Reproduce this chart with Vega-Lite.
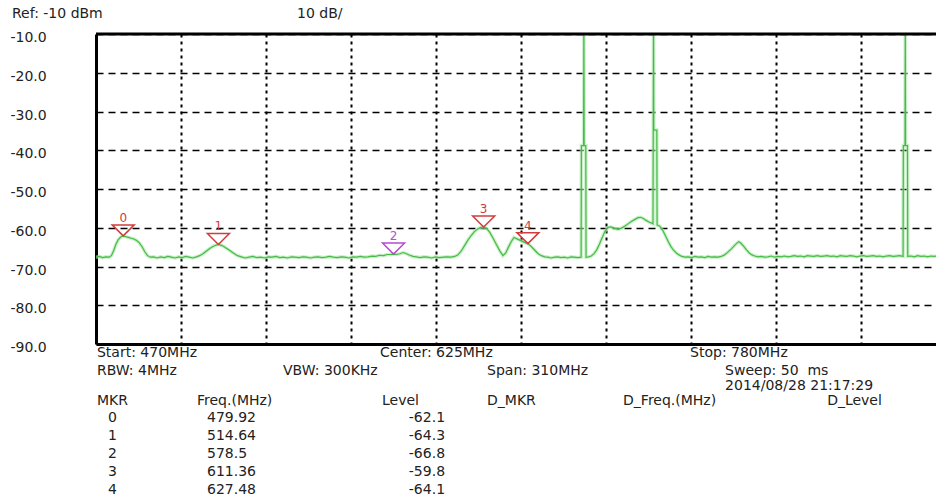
{
  "$schema": "https://vega.github.io/schema/vega-lite/v6.json",
  "width": 840,
  "height": 310,
  "autosize": {"type": "none"},
  "padding": {"left": 96, "top": 34, "right": 0, "bottom": 159},
  "background": "white",
  "config": {
    "view": {"stroke": null},
    "font": "DejaVu Sans",
    "axisX": {"labels": false, "ticks": false, "domain": true, "domainColor": "black", "domainWidth": 3, "grid": true, "gridColor": "black", "gridDash": [3, 4], "gridWidth": 2, "gridOpacity": 1},
    "axisY": {"ticks": false, "labelAlign": "left", "labelPadding": 86, "labelBaseline": "middle", "labelOffset": 3.5, "labelFont": "DejaVu Sans", "labelFontSize": 14,
      "labelColor": "#222222", "labelOverlap": false, "labelFlush": false, "labelBound": false,
      "domain": true, "domainColor": "black", "domainWidth": 3, "grid": true, "gridColor": "black", "gridDash": [7, 5], "gridWidth": 1.5, "gridOpacity": 1}
  },
  "datasets": {
    "trace": [
      {"f": 470.0, "v": -67.6}, {"f": 471.2, "v": -67.4}, {"f": 472.4, "v": -67.7}, {"f": 473.6, "v": -67.5}, {"f": 474.8, "v": -67.6},
      {"f": 475.6, "v": -67.2}, {"f": 476.4, "v": -66.0}, {"f": 477.2, "v": -64.4}, {"f": 478.0, "v": -63.2}, {"f": 479.0, "v": -62.4},
      {"f": 479.9, "v": -62.1}, {"f": 480.8, "v": -62.3}, {"f": 481.8, "v": -62.5}, {"f": 482.8, "v": -62.7}, {"f": 483.8, "v": -62.9},
      {"f": 484.8, "v": -63.3}, {"f": 485.8, "v": -63.9}, {"f": 486.8, "v": -64.9}, {"f": 487.8, "v": -66.2}, {"f": 488.8, "v": -67.2},
      {"f": 489.8, "v": -67.6}, {"f": 491.0, "v": -67.5}, {"f": 492.3, "v": -67.8}, {"f": 493.6, "v": -67.5}, {"f": 494.9, "v": -67.7},
      {"f": 496.2, "v": -67.4}, {"f": 497.5, "v": -67.6}, {"f": 498.8, "v": -67.8}, {"f": 500.1, "v": -67.5}, {"f": 501.4, "v": -67.7},
      {"f": 502.7, "v": -67.4}, {"f": 504.0, "v": -67.6}, {"f": 505.3, "v": -67.8}, {"f": 506.6, "v": -67.5}, {"f": 507.8, "v": -67.2},
      {"f": 509.0, "v": -66.7}, {"f": 510.3, "v": -66.0}, {"f": 511.6, "v": -65.3}, {"f": 513.0, "v": -64.7}, {"f": 514.6, "v": -64.3},
      {"f": 516.0, "v": -64.6}, {"f": 517.4, "v": -65.2}, {"f": 518.8, "v": -65.9}, {"f": 520.2, "v": -66.6}, {"f": 521.6, "v": -67.2},
      {"f": 523.0, "v": -67.5}, {"f": 524.4, "v": -67.8}, {"f": 525.8, "v": -67.6}, {"f": 527.2, "v": -67.4}, {"f": 528.6, "v": -67.7},
      {"f": 530.0, "v": -67.6}, {"f": 531.4, "v": -67.8}, {"f": 532.8, "v": -67.5}, {"f": 534.2, "v": -67.6}, {"f": 535.6, "v": -67.4},
      {"f": 537.0, "v": -67.7}, {"f": 538.4, "v": -67.6}, {"f": 539.8, "v": -67.8}, {"f": 541.2, "v": -67.5}, {"f": 542.6, "v": -67.6},
      {"f": 544.0, "v": -67.7}, {"f": 545.4, "v": -67.5}, {"f": 546.8, "v": -67.6}, {"f": 548.2, "v": -67.8}, {"f": 549.6, "v": -67.6},
      {"f": 551.0, "v": -67.5}, {"f": 552.4, "v": -67.7}, {"f": 553.8, "v": -67.6}, {"f": 555.2, "v": -67.4}, {"f": 556.6, "v": -67.6},
      {"f": 558.0, "v": -67.7}, {"f": 559.4, "v": -67.5}, {"f": 560.8, "v": -67.6}, {"f": 562.2, "v": -67.8}, {"f": 563.6, "v": -67.5},
      {"f": 565.0, "v": -67.6}, {"f": 566.4, "v": -67.4}, {"f": 567.8, "v": -67.6}, {"f": 569.2, "v": -67.5}, {"f": 570.6, "v": -67.3},
      {"f": 572.0, "v": -67.4}, {"f": 573.4, "v": -67.1}, {"f": 574.8, "v": -67.2}, {"f": 576.2, "v": -66.9}, {"f": 577.4, "v": -66.9},
      {"f": 578.5, "v": -66.8}, {"f": 579.6, "v": -66.9}, {"f": 580.8, "v": -66.7}, {"f": 582.0, "v": -66.4}, {"f": 583.2, "v": -66.7},
      {"f": 584.4, "v": -67.1}, {"f": 585.6, "v": -67.4}, {"f": 586.8, "v": -67.5}, {"f": 588.2, "v": -67.7}, {"f": 589.6, "v": -67.5},
      {"f": 591.0, "v": -67.6}, {"f": 592.4, "v": -67.8}, {"f": 593.8, "v": -67.5}, {"f": 595.2, "v": -67.7}, {"f": 596.6, "v": -67.6},
      {"f": 598.0, "v": -67.5}, {"f": 599.4, "v": -67.6}, {"f": 600.8, "v": -67.4}, {"f": 602.0, "v": -67.0}, {"f": 603.2, "v": -66.0},
      {"f": 604.4, "v": -64.6}, {"f": 605.6, "v": -63.2}, {"f": 606.8, "v": -62.0}, {"f": 608.0, "v": -61.0}, {"f": 609.2, "v": -60.3},
      {"f": 610.3, "v": -59.9}, {"f": 611.4, "v": -59.8}, {"f": 612.5, "v": -60.2}, {"f": 613.6, "v": -61.2}, {"f": 614.8, "v": -62.7},
      {"f": 616.0, "v": -64.3}, {"f": 617.2, "v": -65.9}, {"f": 618.4, "v": -67.2}, {"f": 619.4, "v": -66.5}, {"f": 620.4, "v": -65.0},
      {"f": 621.4, "v": -63.6}, {"f": 622.4, "v": -62.5}, {"f": 624.5, "v": -63.2}, {"f": 626.0, "v": -63.7}, {"f": 627.5, "v": -64.1},
      {"f": 628.8, "v": -64.9}, {"f": 630.0, "v": -65.8}, {"f": 631.2, "v": -66.7}, {"f": 632.4, "v": -67.2}, {"f": 633.6, "v": -67.5},
      {"f": 634.8, "v": -67.6}, {"f": 636.0, "v": -67.8}, {"f": 637.2, "v": -67.6}, {"f": 638.4, "v": -67.5}, {"f": 639.6, "v": -67.7},
      {"f": 640.8, "v": -67.6}, {"f": 642.0, "v": -67.8}, {"f": 643.2, "v": -67.5}, {"f": 644.4, "v": -67.6}, {"f": 645.6, "v": -67.7},
      {"f": 646.9, "v": -67.6}, {"f": 647.0, "v": -38.8}, {"f": 647.8, "v": -38.8}, {"f": 647.9, "v": -5}, {"f": 648.0, "v": -38.8},
      {"f": 648.6, "v": -38.8}, {"f": 648.7, "v": -67.6}, {"f": 649.6, "v": -67.5}, {"f": 650.6, "v": -67.3}, {"f": 651.6, "v": -66.7},
      {"f": 652.6, "v": -65.7}, {"f": 653.6, "v": -64.2}, {"f": 654.6, "v": -62.5}, {"f": 655.6, "v": -60.9}, {"f": 656.7, "v": -59.9},
      {"f": 657.8, "v": -59.8}, {"f": 659.0, "v": -60.1}, {"f": 660.4, "v": -60.4}, {"f": 661.6, "v": -60.1}, {"f": 662.8, "v": -59.6},
      {"f": 664.0, "v": -59.0}, {"f": 665.2, "v": -58.4}, {"f": 666.4, "v": -57.9}, {"f": 667.6, "v": -57.4}, {"f": 668.6, "v": -57.3},
      {"f": 669.6, "v": -57.6}, {"f": 670.6, "v": -58.1}, {"f": 671.6, "v": -58.5}, {"f": 672.6, "v": -58.8}, {"f": 673.1, "v": -59.0},
      {"f": 673.2, "v": -34.8}, {"f": 673.3, "v": -5}, {"f": 673.4, "v": -34.8}, {"f": 674.5, "v": -34.8}, {"f": 674.6, "v": -59.3},
      {"f": 675.6, "v": -59.6}, {"f": 676.6, "v": -60.6}, {"f": 677.6, "v": -62.0}, {"f": 678.6, "v": -63.5}, {"f": 679.6, "v": -64.8},
      {"f": 680.6, "v": -65.8}, {"f": 681.6, "v": -66.5}, {"f": 682.6, "v": -67.0}, {"f": 683.6, "v": -67.4}, {"f": 684.8, "v": -67.6},
      {"f": 686.0, "v": -67.5}, {"f": 687.2, "v": -67.7}, {"f": 688.4, "v": -67.4}, {"f": 689.6, "v": -67.6}, {"f": 690.8, "v": -67.5},
      {"f": 692.0, "v": -67.7}, {"f": 693.2, "v": -67.4}, {"f": 694.4, "v": -67.6}, {"f": 695.6, "v": -67.5}, {"f": 696.8, "v": -67.6},
      {"f": 698.0, "v": -67.4}, {"f": 699.2, "v": -67.0}, {"f": 700.4, "v": -66.3}, {"f": 701.6, "v": -65.5}, {"f": 702.8, "v": -64.6},
      {"f": 703.8, "v": -63.9}, {"f": 704.4, "v": -63.6}, {"f": 705.2, "v": -64.0}, {"f": 706.2, "v": -64.8}, {"f": 707.2, "v": -65.7},
      {"f": 708.2, "v": -66.5}, {"f": 709.2, "v": -67.0}, {"f": 710.2, "v": -67.3}, {"f": 711.4, "v": -67.5}, {"f": 712.6, "v": -67.4},
      {"f": 713.8, "v": -67.6}, {"f": 715.0, "v": -67.5}, {"f": 716.2, "v": -67.3}, {"f": 717.4, "v": -67.6}, {"f": 718.6, "v": -67.4},
      {"f": 719.8, "v": -67.5}, {"f": 721.0, "v": -67.3}, {"f": 722.2, "v": -67.5}, {"f": 723.4, "v": -67.4}, {"f": 724.6, "v": -67.2},
      {"f": 725.8, "v": -67.4}, {"f": 727.0, "v": -67.3}, {"f": 728.2, "v": -67.5}, {"f": 729.4, "v": -67.2}, {"f": 730.6, "v": -67.3},
      {"f": 731.8, "v": -67.4}, {"f": 733.0, "v": -67.2}, {"f": 734.2, "v": -67.4}, {"f": 735.4, "v": -67.3}, {"f": 736.6, "v": -67.2},
      {"f": 737.8, "v": -67.4}, {"f": 739.0, "v": -67.3}, {"f": 740.2, "v": -67.5}, {"f": 741.4, "v": -67.2}, {"f": 742.6, "v": -67.3},
      {"f": 743.8, "v": -67.4}, {"f": 745.0, "v": -67.2}, {"f": 746.2, "v": -67.3}, {"f": 747.4, "v": -67.5}, {"f": 748.6, "v": -67.3},
      {"f": 749.8, "v": -67.2}, {"f": 751.0, "v": -67.4}, {"f": 752.2, "v": -67.3}, {"f": 753.4, "v": -67.2}, {"f": 754.6, "v": -67.4},
      {"f": 755.8, "v": -67.3}, {"f": 757.0, "v": -67.5}, {"f": 758.2, "v": -67.3}, {"f": 759.4, "v": -67.2}, {"f": 760.6, "v": -67.4},
      {"f": 761.8, "v": -67.3}, {"f": 763.0, "v": -67.2}, {"f": 764.3, "v": -67.4}, {"f": 764.4, "v": -38.8}, {"f": 765.0, "v": -38.8},
      {"f": 765.1, "v": -5}, {"f": 765.2, "v": -38.8}, {"f": 765.9, "v": -38.8}, {"f": 766.0, "v": -67.4}, {"f": 767.2, "v": -67.3},
      {"f": 768.4, "v": -67.5}, {"f": 769.6, "v": -67.2}, {"f": 770.8, "v": -67.4}, {"f": 772.0, "v": -67.3}, {"f": 773.2, "v": -67.5},
      {"f": 774.4, "v": -67.3}, {"f": 775.6, "v": -67.4}, {"f": 776.3, "v": -67.3}
    ],
    "markers": [
      {"mkr": "0", "freq": "479.92", "level": "-62.1", "f": 479.92, "v": -62.1, "m": 0},
      {"mkr": "1", "freq": "514.64", "level": "-64.3", "f": 514.64, "v": -64.3, "m": 1},
      {"mkr": "2", "freq": "578.5", "level": "-66.8", "f": 578.5, "v": -66.8, "m": 2},
      {"mkr": "3", "freq": "611.36", "level": "-59.8", "f": 611.36, "v": -59.8, "m": 3},
      {"mkr": "4", "freq": "627.48", "level": "-64.1", "f": 627.48, "v": -64.1, "m": 4}
    ],
    "notes": [
      {"text": "Ref: -10 dBm", "f": 439.37, "v": -4.84},
      {"text": "10 dB/", "f": 543.3, "v": -4.84},
      {"text": "Start: 470MHz", "f": 470.36, "v": -92.4},
      {"text": "Center: 625MHz", "f": 573.57, "v": -92.4},
      {"text": "Stop: 780MHz", "f": 686.62, "v": -92.4},
      {"text": "RBW: 4MHz", "f": 470.36, "v": -96.85},
      {"text": "VBW: 300KHz", "f": 538.2, "v": -96.85},
      {"text": "Span: 310MHz", "f": 612.6, "v": -96.85},
      {"text": "Sweep: 50\u00a0\u00a0ms", "f": 699.4, "v": -96.85},
      {"text": "2014/08/28 21:17:29", "f": 699.4, "v": -100.75},
      {"text": "MKR", "f": 470.36, "v": -104.63},
      {"text": "Freq.(MHz)", "f": 506.83, "v": -104.63},
      {"text": "Level", "f": 574.3, "v": -104.63},
      {"text": "D_MKR", "f": 612.6, "v": -104.63},
      {"text": "D_Freq.(MHz)", "f": 662.2, "v": -104.63},
      {"text": "D_Level", "f": 736.6, "v": -104.63}
    ]
  },
  "layer": [
    {
      "layer": [
        {
          "data": {"name": "trace"},
          "mark": {"type": "line", "clip": true, "color": "#a6e6a6", "strokeWidth": 3.5, "opacity": 0.6},
          "encoding": {
            "x": {"field": "f", "type": "quantitative", "title": null, "scale": {"domain": [470, 776.3], "nice": false, "zero": false},
              "axis": {"values": [501, 532, 563, 594, 625, 656, 687, 718, 749], "title": null}},
            "y": {"field": "v", "type": "quantitative", "title": null, "scale": {"domain": [-90, -10], "nice": false, "zero": false},
              "axis": {"values": [-10, -20, -30, -40, -50, -60, -70, -80, -90], "labelExpr": "replace(format(datum.value, '.1f'), '\u2212', '-')", "title": null}}
          }
        },
        {
          "data": {"name": "trace"},
          "mark": {"type": "line", "clip": true, "color": "#46bb46", "strokeWidth": 1.2},
          "encoding": {
            "x": {"field": "f", "type": "quantitative", "title": null,
              "axis": {"values": [501, 532, 563, 594, 625, 656, 687, 718, 749], "title": null}},
            "y": {"field": "v", "type": "quantitative", "title": null,
              "axis": {"values": [-10, -20, -30, -40, -50, -60, -70, -80, -90], "labelExpr": "replace(format(datum.value, '.1f'), '\u2212', '-')", "title": null}}
          }
        },
        {
          "data": {"values": [{}]},
          "mark": {"type": "rule", "color": "black", "strokeWidth": 3},
          "encoding": {
            "y": {"datum": -10, "type": "quantitative",
              "axis": {"values": [-10, -20, -30, -40, -50, -60, -70, -80, -90], "labelExpr": "replace(format(datum.value, '.1f'), '\u2212', '-')", "title": null}}
          }
        },
        {
          "data": {"name": "markers"},
          "mark": {"type": "point", "shape": "M-1,-1L1,-1L0,0Z", "size": 484, "filled": false, "strokeWidth": 1.5, "opacity": 1},
          "encoding": {
            "x": {"field": "f", "type": "quantitative", "title": null,
              "axis": {"values": [501, 532, 563, 594, 625, 656, 687, 718, 749], "title": null}},
            "y": {"field": "v", "type": "quantitative", "title": null,
              "axis": {"values": [-10, -20, -30, -40, -50, -60, -70, -80, -90], "labelExpr": "replace(format(datum.value, '.1f'), '\u2212', '-')", "title": null}},
            "color": {"condition": {"test": "datum.mkr === '2'", "value": "#b54ed0"}, "value": "#d23c3c"}
          }
        },
        {
          "data": {"name": "markers"},
          "mark": {"type": "text", "dy": -18, "fontSize": 12, "font": "DejaVu Sans", "baseline": "middle", "align": "center"},
          "encoding": {
            "x": {"field": "f", "type": "quantitative", "title": null,
              "axis": {"values": [501, 532, 563, 594, 625, 656, 687, 718, 749], "title": null}},
            "y": {"field": "v", "type": "quantitative", "title": null,
              "axis": {"values": [-10, -20, -30, -40, -50, -60, -70, -80, -90], "labelExpr": "replace(format(datum.value, '.1f'), '\u2212', '-')", "title": null}},
            "text": {"field": "mkr", "type": "nominal"},
            "color": {"condition": {"test": "datum.mkr === '2'", "value": "#b54ed0"}, "value": "#d23c3c"}
          }
        },
        {
          "data": {"name": "notes"},
          "mark": {"type": "text", "align": "left", "baseline": "middle", "fontSize": 14, "font": "DejaVu Sans", "color": "#222222"},
          "encoding": {
            "x": {"field": "f", "type": "quantitative", "title": null,
              "axis": {"values": [501, 532, 563, 594, 625, 656, 687, 718, 749], "title": null}},
            "y": {"field": "v", "type": "quantitative", "title": null,
              "axis": {"values": [-10, -20, -30, -40, -50, -60, -70, -80, -90], "labelExpr": "replace(format(datum.value, '.1f'), '\u2212', '-')", "title": null}},
            "text": {"field": "text", "type": "nominal"}
          }
        }
      ]
    },
    {
      "data": {"name": "markers"},
      "layer": [
        {
          "mark": {"type": "text", "align": "center", "baseline": "middle", "fontSize": 14, "font": "DejaVu Sans", "color": "#222222"},
          "encoding": {
            "x": {"datum": 476.02, "type": "quantitative", "axis": {"values": [501, 532, 563, 594, 625, 656, 687, 718, 749], "title": null}},
            "y": {"field": "m", "type": "quantitative", "scale": {"domain": [-21.333, -4.111], "reverse": true, "nice": false, "zero": false}, "axis": null},
            "text": {"field": "mkr", "type": "nominal"}
          }
        },
        {
          "mark": {"type": "text", "align": "left", "baseline": "middle", "fontSize": 14, "font": "DejaVu Sans", "color": "#222222"},
          "encoding": {
            "x": {"datum": 510.48, "type": "quantitative", "axis": {"values": [501, 532, 563, 594, 625, 656, 687, 718, 749], "title": null}},
            "y": {"field": "m", "type": "quantitative", "scale": {"domain": [-21.333, -4.111], "reverse": true, "nice": false, "zero": false}, "axis": null},
            "text": {"field": "freq", "type": "nominal"}
          }
        },
        {
          "mark": {"type": "text", "align": "right", "baseline": "middle", "fontSize": 14, "font": "DejaVu Sans", "color": "#222222"},
          "encoding": {
            "x": {"datum": 597.28, "type": "quantitative", "axis": {"values": [501, 532, 563, 594, 625, 656, 687, 718, 749], "title": null}},
            "y": {"field": "m", "type": "quantitative", "scale": {"domain": [-21.333, -4.111], "reverse": true, "nice": false, "zero": false}, "axis": null},
            "text": {"field": "level", "type": "nominal"}
          }
        }
      ]
    }
  ],
  "resolve": {"scale": {"y": "independent"}}
}
